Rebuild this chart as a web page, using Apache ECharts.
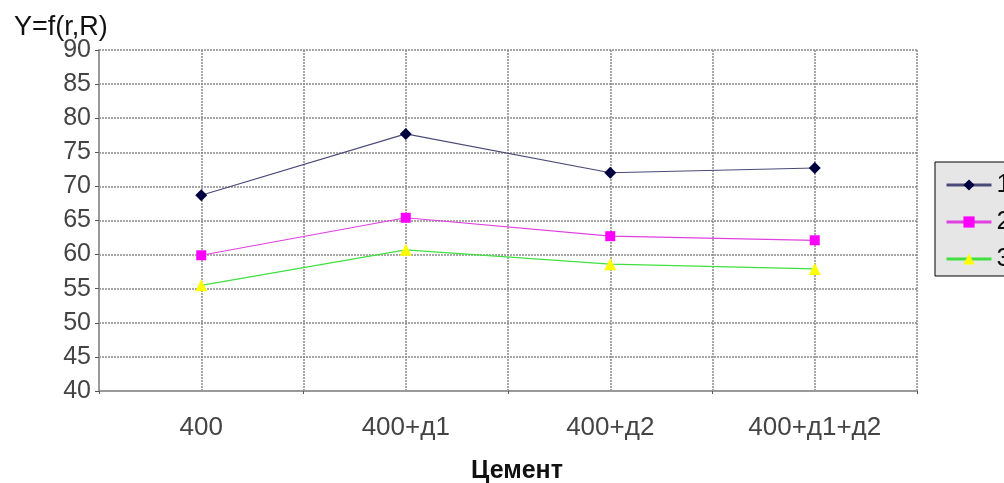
<!DOCTYPE html>
<html><head><meta charset="utf-8">
<script src="https://cdn.jsdelivr.net/npm/echarts@6/dist/echarts.min.js"></script>
<style>html,body{margin:0;padding:0;background:#fff}#c{width:1004px;height:483px}</style>
</head><body><div id="c"></div>
<script>
const categories = ['400', '400+д1', '400+д2', '400+д1+д2'];
const seriesNames = ['1', '2', '3'];
const s1 = [68.7, 77.7, 72.0, 72.7];
const s2 = [59.9, 65.4, 62.7, 62.1];
const s3 = [55.5, 60.7, 58.6, 57.9];
const yTicks = {min: 40, max: 90, step: 5};

const font = 'Liberation Sans, Arial, sans-serif';
const gridLine = {show: true, lineStyle: {color: '#8a8a8a', width: 1.5, type: [2, 1]}};
const chart = echarts.init(document.getElementById('c'));
chart.setOption({
  animation: false,
  backgroundColor: '#fff',
  title: {text: 'Y=f(r,R)', left: 9, top: 9, textStyle: {fontFamily: font, fontSize: 27, fontWeight: 'normal', color: '#111'}},
  grid: {left: 99, top: 50, right: 87, bottom: 92, containLabel: false, outerBoundsMode: 'none'},
  legend: {
    orient: 'vertical', left: 935, top: 162, itemWidth: 45, itemHeight: 14, itemGap: 11,
    backgroundColor: '#e6e6e6', borderColor: '#000', borderWidth: 1, padding: [10, 8, 4, 10],
    textStyle: {fontFamily: font, fontSize: 26, color: '#111'},
    lineStyle: {width: 3},
    data: seriesNames
  },
  xAxis: [
    {type: 'category', data: categories, boundaryGap: true,
     axisLine: {lineStyle: {color: '#999', width: 2}},
     axisTick: {show: true, length: 3, lineStyle: {color: '#555'}},
     axisLabel: {fontFamily: font, fontSize: 26, color: '#444', margin: 24},
     splitLine: {show: false},
     name: 'Цемент', nameLocation: 'middle', nameGap: 68,
     nameTextStyle: {fontFamily: font, fontSize: 25, color: '#111', fontWeight: 'bold', padding: [0, 0, 0, 18]}},
    {type: 'value', min: 0, max: 8, interval: 1, position: 'bottom',
     axisLine: {show: false}, axisTick: {show: false}, axisLabel: {show: false},
     splitLine: gridLine}
  ],
  yAxis: {type: 'value', min: yTicks.min, max: yTicks.max, interval: yTicks.step,
    axisLine: {show: true, lineStyle: {color: '#999', width: 2}},
    axisTick: {show: true, length: 4, lineStyle: {color: '#555'}},
    axisLabel: {fontFamily: font, fontSize: 25, color: '#444', margin: 8},
    splitLine: gridLine},
  series: [
    {name: seriesNames[0], type: 'line', data: s1, symbol: 'diamond', symbolSize: 12,
     lineStyle: {color: '#4a4a78', width: 1.2}, itemStyle: {color: '#000040'}, color: '#000080'},
    {name: seriesNames[1], type: 'line', data: s2, symbol: 'rect', symbolSize: 10,
     lineStyle: {color: '#e040e0', width: 1.2}, itemStyle: {color: '#ff00ff'}, color: '#ff00ff'},
    {name: seriesNames[2], type: 'line', data: s3, symbol: 'triangle', symbolSize: 12,
     lineStyle: {color: '#40e040', width: 1.2}, itemStyle: {color: '#ffff00'}, color: '#00ff00'}
  ]
});
</script></body></html>
